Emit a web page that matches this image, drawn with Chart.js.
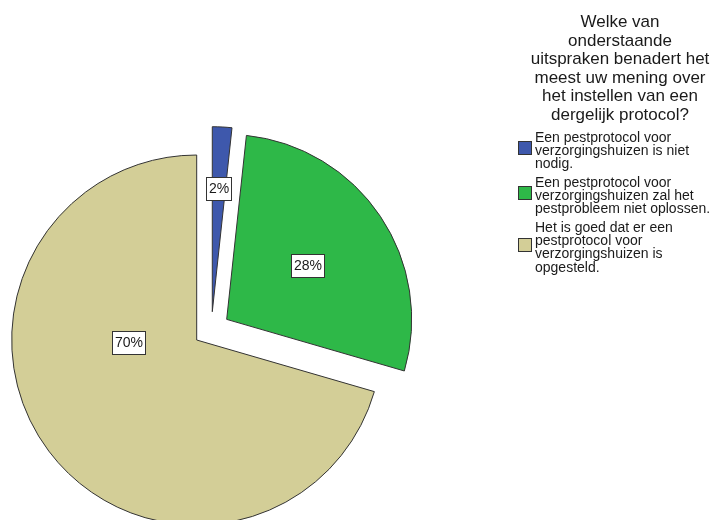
<!DOCTYPE html>
<html><head><meta charset="utf-8">
<script src="https://cdn.jsdelivr.net/npm/chart.js@4.4.0/dist/chart.umd.min.js"></script>
<style>html,body{margin:0;padding:0;background:#fff;overflow:hidden}#wrap{position:relative;width:717px;height:520px}</style>
</head><body><div id="wrap"><canvas id="c" width="717" height="520"></canvas></div>
<script>
// ---- data ----
const titleLines = ["Welke van","onderstaande","uitspraken benadert het","meest uw mening over","het instellen van een","dergelijk protocol?"];
const categories = [
  ["Een pestprotocol voor","verzorgingshuizen is niet","nodig."],
  ["Een pestprotocol voor","verzorgingshuizen zal het","pestprobleem niet oplossen."],
  ["Het is goed dat er een","pestprotocol voor","verzorgingshuizen is","opgesteld."]
];
const percentages = [1.7, 27.8, 70.5];
const percentLabels = ["2%","28%","70%"];
const sliceColors = ["#3E58AC","#2EB848","#D3CE97"];

// ---- style config ----
const FONT = '"Liberation Sans", Arial, sans-serif';
const explode = [{dist:32.3, turn:25.8},{dist:36.4, turn:-0.7},{dist:0, turn:0}];
const labelPlace = [{t:0.45, frac:0.665},{t:0.5, frac:0.524},{t:0.638, frac:0.371}];

function explodeShift(el, i){
  const e = explode[i] || {dist:0, turn:0};
  const mid = (el.startAngle + el.endAngle) / 2 + e.turn * Math.PI / 180;
  return {dx: Math.cos(mid) * e.dist, dy: Math.sin(mid) * e.dist};
}

const explodePlugin = {
  id: 'explodeSlices',
  beforeDatasetsDraw(chart){
    const meta = chart.getDatasetMeta(0);
    meta.data.forEach((el, i) => {
      if (el._wrappedDraw) return;
      const protoDraw = Object.getPrototypeOf(el).draw;
      el.draw = function(ctx, area){
        const s = explodeShift(this, i);
        ctx.save();
        ctx.translate(s.dx, s.dy);
        protoDraw.call(this, ctx, area);
        ctx.restore();
      };
      el._wrappedDraw = true;
    });
  }
};

const labelPlugin = {
  id: 'pctLabels',
  afterDatasetsDraw(chart){
    const ctx = chart.ctx;
    const meta = chart.getDatasetMeta(0);
    ctx.save();
    ctx.font = '14px ' + FONT;
    ctx.textAlign = 'center';
    ctx.textBaseline = 'middle';
    meta.data.forEach((el, i) => {
      const s = explodeShift(el, i);
      const p = labelPlace[i];
      const a = el.startAngle + p.t * (el.endAngle - el.startAngle);
      const r = p.frac * el.outerRadius;
      const px = el.x + s.dx + Math.cos(a) * r;
      const py = el.y + s.dy + Math.sin(a) * r;
      const txt = percentLabels[i];
      const w = Math.round(ctx.measureText(txt).width + 5);
      const h = 23;
      const x0 = Math.round(px - w / 2) + 0.5, y0 = Math.round(py - h / 2) + 0.5;
      ctx.fillStyle = '#ffffff';
      ctx.fillRect(x0, y0, w, h);
      ctx.strokeStyle = '#333333';
      ctx.lineWidth = 1;
      ctx.strokeRect(x0, y0, w, h);
      ctx.fillStyle = '#1a1a1a';
      ctx.fillText(txt, x0 + w / 2, y0 + h / 2 + 0.5);
    });
    ctx.restore();
  }
};

const legendPlugin = {
  id: 'sideLegend',
  afterDraw(chart){
    const ctx = chart.ctx;
    ctx.save();
    // title
    ctx.fillStyle = '#1a1a1a';
    ctx.font = '17px ' + FONT;
    ctx.textAlign = 'center';
    ctx.textBaseline = 'alphabetic';
    titleLines.forEach((t, k) => ctx.fillText(t, 620, 27 + k * 18.6));
    // items
    ctx.font = '14px ' + FONT;
    ctx.textAlign = 'left';
    const lh = 13.33;
    let base = 141.7;
    const colors = chart.data.datasets[0].backgroundColor;
    chart.data.labels.forEach((lines, i) => {
      const n = lines.length;
      const blockMid = base - 5 + (n - 1) * lh / 2;
      const by = Math.round(blockMid - 2 - 7) + 0.5;
      ctx.fillStyle = colors[i];
      ctx.fillRect(518.5, by, 13, 13);
      ctx.strokeStyle = '#333333';
      ctx.lineWidth = 1;
      ctx.strokeRect(518.5, by, 13, 13);
      ctx.fillStyle = '#1a1a1a';
      lines.forEach((ln, k) => ctx.fillText(ln, 535, base + k * lh));
      base += n * lh + 5;
    });
    ctx.restore();
  }
};

new Chart(document.getElementById('c'), {
  type: 'pie',
  data: {
    labels: categories,
    datasets: [{
      data: percentages,
      backgroundColor: sliceColors,
      borderColor: '#333333',
      borderWidth: 1
    }]
  },
  options: {
    responsive: false,
    animation: false,
    events: [],
    radius: 185,
    layout: {padding: {left: 0, right: 323.6, top: 160, bottom: 0}},
    plugins: {legend: {display: false}, tooltip: {enabled: false}, title: {display: false}}
  },
  plugins: [explodePlugin, labelPlugin, legendPlugin]
});
</script>
</body></html>
